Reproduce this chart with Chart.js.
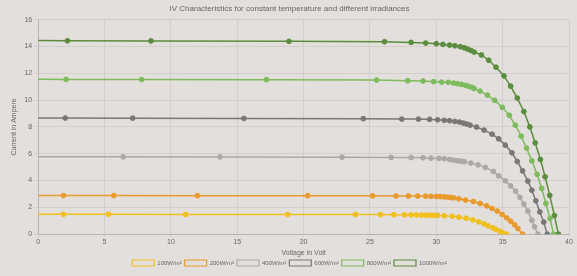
<!DOCTYPE html>
<html>
<head>
<meta charset="utf-8">
<script src="https://cdn.jsdelivr.net/npm/chart.js@4"></script>
<style>
  html, body { margin: 0; padding: 0; background: #e3dfdc; }
  #wrap { width: 577px; height: 276px; }
</style>
</head>
<body>
<div id="wrap"><canvas id="chart"></canvas></div>
<script>
// irradiance levels (legend)
const seriesNames = ['100W/m²', '200W/m²', '400W/m²', '600W/m²', '800W/m²', '1000W/m²'];
const seriesColors = ['#f2c01e', '#e99a2c', '#aaa9a7', '#797877', '#7dbb5c', '#5a8d3e'];

// voltage (V) / current (A) pairs
const volt100 = [0, 1.9, 5.3, 11.1, 18.8, 23.9, 25.8, 26.8, 27.6, 28.1, 28.5, 28.9, 29.2, 29.5, 29.7, 29.9, 30.1, 30.6, 31.2, 31.7, 32.25, 32.75, 33.2, 33.6, 33.9, 34.26, 34.5, 34.8, 35.0, 35.3];
const amp100 = [1.48, 1.48, 1.48, 1.47, 1.47, 1.47, 1.46, 1.45, 1.44, 1.44, 1.43, 1.42, 1.42, 1.41, 1.41, 1.4, 1.4, 1.37, 1.34, 1.27, 1.19, 1.07, 0.92, 0.77, 0.62, 0.47, 0.35, 0.22, 0.1, 0];

const volt200 = [0, 1.9, 5.7, 12.0, 20.3, 25.2, 26.97, 27.9, 28.6, 29.2, 29.6, 30.0, 30.3, 30.6, 30.85, 31.1, 31.3, 31.7, 32.2, 32.8, 33.3, 33.8, 34.2, 34.6, 34.97, 35.3, 35.6, 35.9, 36.15, 36.5];
const amp200 = [2.89, 2.88, 2.88, 2.87, 2.87, 2.86, 2.85, 2.84, 2.84, 2.83, 2.82, 2.81, 2.8, 2.79, 2.76, 2.74, 2.71, 2.64, 2.54, 2.44, 2.29, 2.11, 1.92, 1.72, 1.47, 1.22, 0.97, 0.7, 0.42, 0];

const volt400 = [0, 6.4, 13.7, 22.9, 26.6, 28.1, 29.0, 29.6, 30.2, 30.6, 31.0, 31.3, 31.6, 31.85, 32.1, 32.6, 33.15, 33.7, 34.3, 34.7, 35.2, 35.6, 35.98, 36.3, 36.6, 36.9, 37.2, 37.4, 37.66];
const amp400 = [5.78, 5.77, 5.76, 5.74, 5.72, 5.71, 5.7, 5.67, 5.65, 5.62, 5.57, 5.52, 5.47, 5.45, 5.4, 5.3, 5.17, 4.98, 4.68, 4.35, 3.98, 3.6, 3.21, 2.74, 2.24, 1.72, 1.04, 0.55, 0];

const volt600 = [0, 2.04, 7.12, 15.5, 24.5, 27.4, 28.65, 29.5, 30.1, 30.6, 31.0, 31.4, 31.75, 32.05, 32.3, 32.55, 33.03, 33.6, 34.2, 34.7, 35.2, 35.7, 36.1, 36.5, 36.9, 37.2, 37.5, 37.8, 38.1, 38.36];
const amp600 = [8.67, 8.66, 8.65, 8.63, 8.61, 8.58, 8.58, 8.56, 8.53, 8.49, 8.46, 8.41, 8.36, 8.28, 8.21, 8.13, 7.99, 7.76, 7.46, 7.11, 6.64, 6.07, 5.42, 4.72, 3.96, 3.28, 2.49, 1.66, 0.9, 0];

const volt800 = [0, 2.1, 7.8, 17.2, 25.5, 27.85, 29.0, 29.8, 30.4, 30.9, 31.3, 31.6, 31.9, 32.2, 32.45, 32.7, 32.85, 33.3, 33.85, 34.4, 34.97, 35.5, 35.95, 36.4, 36.8, 37.2, 37.6, 37.94, 38.26, 38.57, 38.84];
const amp800 = [11.55, 11.54, 11.53, 11.52, 11.49, 11.44, 11.42, 11.37, 11.34, 11.32, 11.27, 11.22, 11.17, 11.1, 11.02, 10.95, 10.85, 10.67, 10.37, 9.98, 9.46, 8.86, 8.13, 7.31, 6.42, 5.47, 4.46, 3.41, 2.29, 1.17, 0];

const volt1000 = [0, 2.2, 8.5, 18.9, 26.1, 28.1, 29.2, 30.0, 30.5, 31.0, 31.4, 31.8, 32.1, 32.35, 32.6, 32.85, 33.4, 33.95, 34.5, 35.1, 35.6, 36.1, 36.6, 37.05, 37.45, 37.85, 38.2, 38.55, 38.9, 39.2];
const amp1000 = [14.45, 14.42, 14.41, 14.38, 14.35, 14.3, 14.25, 14.2, 14.15, 14.1, 14.05, 13.98, 13.9, 13.8, 13.7, 13.58, 13.36, 12.97, 12.45, 11.8, 11.04, 10.15, 9.15, 8.0, 6.81, 5.57, 4.28, 2.89, 1.39, 0];

const volts = [volt100, volt200, volt400, volt600, volt800, volt1000];
const amps = [amp100, amp200, amp400, amp600, amp800, amp1000];

const xTicks = [0, 5, 10, 15, 20, 25, 30, 35, 40];
const yTicks = [0, 2, 4, 6, 8, 10, 12, 14, 16];

Chart.defaults.font.family = 'Liberation Sans, Arial, sans-serif';
Chart.defaults.font.size = 7;
Chart.defaults.color = '#666';

const bgPlugin = {
  id: 'bg',
  beforeDraw(chart) {
    const c = chart.ctx;
    c.save();
    c.fillStyle = '#e3dfdc';
    c.fillRect(0, 0, chart.width, chart.height);
    c.restore();
  }
};

const datasets = seriesNames.map((name, i) => ({
  label: name,
  data: volts[i].map((v, k) => ({ x: v, y: amps[i][k] })),
  borderColor: seriesColors[i],
  backgroundColor: seriesColors[i],
  borderWidth: 1.5,
  pointRadius: ctx => ctx.dataIndex === 0 ? 0 : 2.4,
  pointBorderWidth: 1,
  showLine: true,
  tension: 0
}));

new Chart(document.getElementById('chart'), {
  type: 'scatter',
  data: { datasets: datasets },
  plugins: [bgPlugin],
  options: {
    responsive: true,
    maintainAspectRatio: false,
    animation: false,
    layout: { padding: { left: 10, right: 8, top: 0, bottom: 0 } },
    plugins: {
      title: {
        display: true,
        text: 'IV Characteristics for constant temperature and different irradiances',
        font: { size: 8, weight: 'normal' },
        color: '#666',
        padding: { top: 4, bottom: 6 }
      },
      legend: {
        position: 'bottom',
        labels: {
          boxWidth: 22,
          boxHeight: 6,
          padding: 3,
          font: { size: 6 },
          generateLabels: chart => chart.data.datasets.map((ds, i) => ({
            text: ds.label,
            fillStyle: 'rgba(0,0,0,0)',
            strokeStyle: ds.borderColor,
            lineWidth: 1.2,
            datasetIndex: i,
            fontColor: '#666'
          }))
        }
      },
      tooltip: { enabled: false }
    },
    scales: {
      x: {
        type: 'linear',
        min: 0,
        max: 40,
        afterBuildTicks: axis => { axis.ticks = xTicks.map(v => ({ value: v })); },
        grid: { color: '#d3cecb', tickLength: 3 },
        border: { color: '#b8b4b1' },
        ticks: { padding: 1 },
        title: { display: true, text: 'Voltage in Volt', padding: { top: 1, bottom: 0 } }
      },
      y: {
        min: 0,
        max: 16,
        afterBuildTicks: axis => { axis.ticks = yTicks.map(v => ({ value: v })); },
        grid: { color: '#d3cecb', tickLength: 4 },
        border: { color: '#b8b4b1' },
        ticks: { padding: 2 },
        title: { display: true, text: 'Current in Ampere', padding: { top: 0, bottom: 4 } }
      }
    }
  }
});
</script>
</body>
</html>
